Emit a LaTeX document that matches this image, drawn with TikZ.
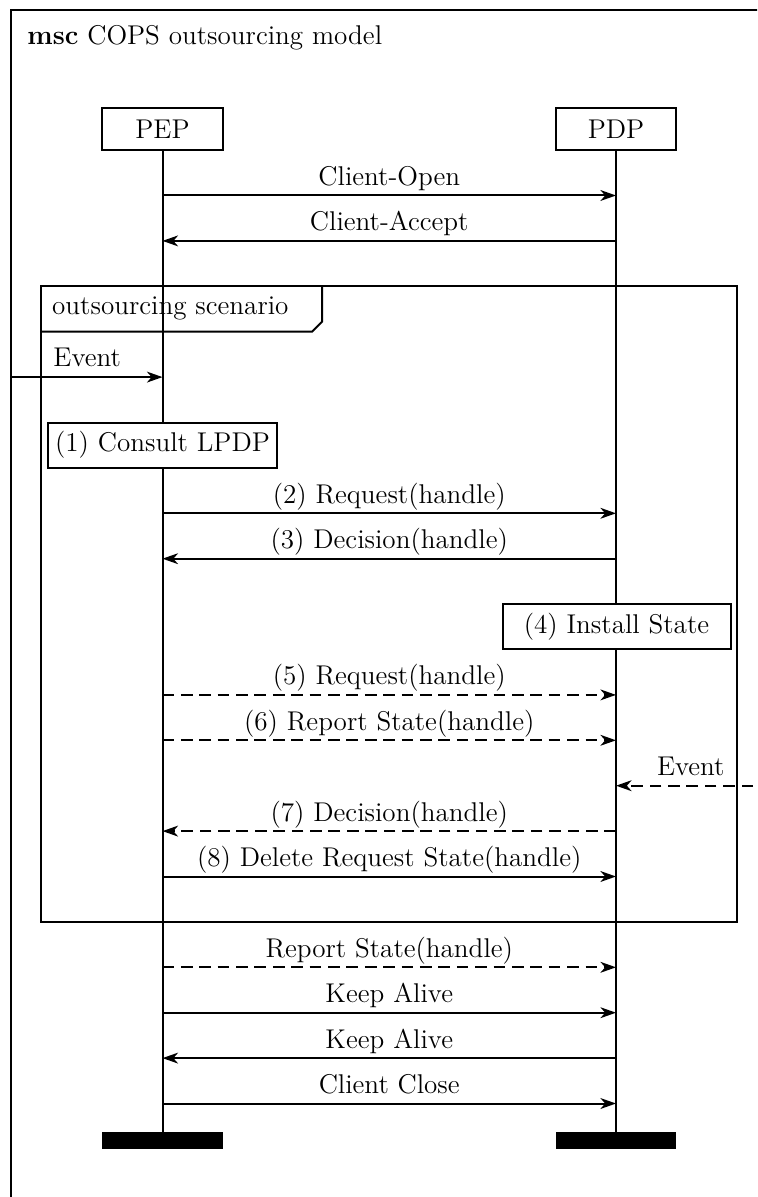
\documentclass[tikz,border=0pt]{standalone}
\usetikzlibrary{arrows.meta}
\tikzset{
  lane/.style={line width=0.85pt},
  framebox/.style={line width=0.95pt},
  msg/.style={line width=0.85pt, -{Stealth[length=6.6pt,width=4.6pt,inset=2pt]}},
  dmsg/.style={msg, dash pattern=on 4.96pt off 2.84pt},
  lbl/.style={anchor=base, inner sep=0pt, yshift=4.24pt},
  plain/.style={inner sep=0pt},
  inst/.style={draw, line width=0.85pt, minimum width=51.3pt, minimum height=17.8pt, inner sep=0pt},
  action/.style={draw, fill=white, line width=0.85pt, minimum width=96.7pt, minimum height=19.2pt, inner sep=0pt},
  stopbar/.style={fill=black, minimum width=51.3pt, minimum height=7.2pt, inner sep=0pt},
}
\begin{document}
\begin{tikzpicture}[x=0.4241pt,y=-0.4241pt,font=\fontsize{11.5pt}{13.8pt}\selectfont]
\useasboundingbox (0,0) rectangle (757,1197);
\clip (0,0) rectangle (757,1197);
% frame
\draw[framebox] (11,10) rectangle (800,1240);
\node[plain, anchor=base west] (title) at (27,44.3) {\textbf{msc} COPS outsourcing model};
% instances
\node[inst] (pep) at (162.5,129) {PEP};
\node[inst] (pdp) at (616,129) {PDP};
\node[stopbar] (pepend) at (162.5,1140.5) {};
\node[stopbar] (pdpend) at (616,1140.5) {};
\draw[lane] (pep) -- (pepend);
\draw[lane] (pdp) -- (pdpend);
% level coordinates
\foreach \k/\y in {0/195.5,1/240.9,4/377.1,7/513.3,8/558.7,11/694.9,12/740.3,13/785.7,14/831.1,15/876.5,17/967.3,18/1012.7,19/1058.1,20/1103.5}{
  \coordinate (pep\k) at (162.5,\y);
  \coordinate (pdp\k) at (616,\y);
}
% messages before inline
\draw[msg] (pep0) -- node[lbl] {Client-Open} (pdp0);
\draw[msg] (pdp1) -- node[lbl] {Client-Accept} (pep1);
% inline expression
\draw[lane] (41,286) rectangle (737,921.9);
\node[plain, anchor=base west] (inltitle) at (51.7,315) {outsourcing scenario};
\draw[lane] (41,331.7) -- (312,331.7) -- (322,321.7) -- (322,286);
% event from environment (left)
\coordinate (evL) at (11,377.1);
\draw[msg] (evL) -- (pep4);
\node[plain, anchor=base west] (evLlbl) at (53,367) {Event};
% actions and messages
\node[action] (consult) at (162.5,445.2) {(1) Consult LPDP};
\draw[msg] (pep7) -- node[lbl] {(2) Request(handle)} (pdp7);
\draw[msg] (pdp8) -- node[lbl] {(3) Decision(handle)} (pep8);
\node[action] (install) at (616.5,626.8) {(4) Install State};
\draw[dmsg] (pep11) -- node[lbl] {(5) Request(handle)} (pdp11);
\draw[dmsg] (pep12) -- node[lbl] {(6) Report State(handle)} (pdp12);
\coordinate (evR) at (790,785.7);
\draw[dmsg] (evR) -- (pdp13);
\node[plain, anchor=base east] (evRlbl) at (725,775) {Event};
\draw[dmsg] (pdp14) -- node[lbl] {(7) Decision(handle)} (pep14);
\draw[msg] (pep15) -- node[lbl] {(8) Delete Request State(handle)} (pdp15);
% after inline
\draw[dmsg] (pep17) -- node[lbl] {Report State(handle)} (pdp17);
\draw[msg] (pep18) -- node[lbl] {Keep Alive} (pdp18);
\draw[msg] (pdp19) -- node[lbl] {Keep Alive} (pep19);
\draw[msg] (pep20) -- node[lbl] {Client Close} (pdp20);
\end{tikzpicture}
\end{document}
